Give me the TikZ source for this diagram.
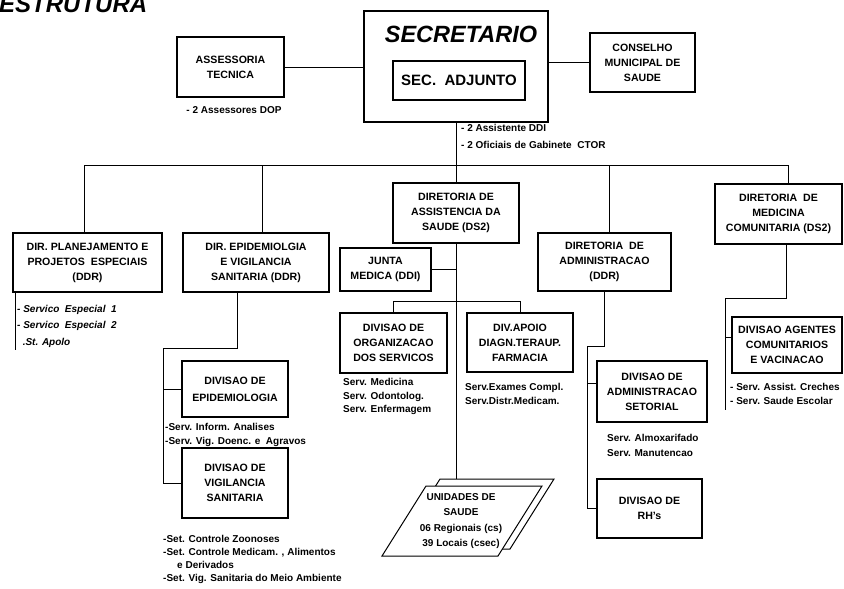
\documentclass[tikz,border=0pt]{standalone}
\usepackage{fontspec}
\setmainfont{Liberation Sans}
\newfontfamily\headfont{Liberation Sans}
\begin{document}
\begin{tikzpicture}[x=1pt,y=-1pt,
  unit/.style={draw, line width=1.1pt, align=center, inner sep=0pt,
    font=\fontsize{10.6}{15}\selectfont\bfseries},
  note/.style={align=left, inner sep=0pt, anchor=west,
    font=\fontsize{10}{14}\selectfont\bfseries},
  link/.style={line width=1pt}]
\useasboundingbox (0,0) rectangle (844,589);

% heading
\node[anchor=base west, inner sep=0pt, font=\headfont\fontsize{24}{24}\selectfont\bfseries\itshape] (title) at (-1,12.5) {ESTRUTURA};

% top level
\node[unit, minimum width=184pt, minimum height=111pt] (sec) at (456,66.5) {};
\node[inner sep=0pt, font=\headfont\fontsize{23.5}{24}\selectfont\bfseries\itshape] (sectitle) at (461,34) {SECRETARIO};
\node[unit, minimum width=132pt, minimum height=39pt, font=\headfont\fontsize{15}{16}\selectfont\bfseries] (adj) at (459,80.5) {SEC.\ \ ADJUNTO};
\node[unit, minimum width=107pt, minimum height=60pt] (asses) at (230.5,67) {ASSESSORIA\\TECNICA};
\node[unit, minimum width=105pt, minimum height=59pt] (cons) at (642.5,62.5) {CONSELHO\\MUNICIPAL DE\\SAUDE};
\node[note, anchor=center] (assesnote) at (234,110) {- 2 Assessores DOP};
\node[note, font=\fontsize{10}{16.5}\selectfont\bfseries] (secnote) at (461,136.5) {- 2 Assistente DDI\\- 2 Oficiais de Gabinete\ \ CTOR};

% directorates
\node[unit, minimum width=149pt, minimum height=59pt] (plan) at (87.5,262.5) {DIR. PLANEJAMENTO E\\PROJETOS\ \ ESPECIAIS\\(DDR)};
\node[unit, minimum width=146pt, minimum height=59pt] (epi) at (256,262.5) {DIR. EPIDEMIOLGIA\\E VIGILANCIA\\SANITARIA (DDR)};
\node[unit, minimum width=126pt, minimum height=60pt] (assist) at (456,213) {DIRETORIA DE\\ASSISTENCIA DA\\SAUDE (DS2)};
\node[unit, minimum width=133pt, minimum height=58pt] (admin) at (604.5,262) {DIRETORIA\ \ DE\\ADMINISTRACAO\\(DDR)};
\node[unit, minimum width=127pt, minimum height=60pt] (med) at (778.5,214) {DIRETORIA\ \ DE\\MEDICINA\\COMUNITARIA (DS2)};

% divisions
\node[unit, minimum width=91pt, minimum height=43pt] (junta) at (385.5,269.5) {JUNTA\\MEDICA (DDI)};
\node[unit, minimum width=107pt, minimum height=60pt] (org) at (393.5,343) {DIVISAO DE\\ORGANIZACAO\\DOS SERVICOS};
\node[unit, minimum width=106pt, minimum height=59pt] (apoio) at (520,342.5) {DIV.APOIO\\DIAGN.TERAUP.\\FARMACIA};
\node[unit, minimum width=106pt, minimum height=56pt, font=\fontsize{10.6}{17}\selectfont\bfseries] (divepi) at (235,389) {DIVISAO DE\\EPIDEMIOLOGIA};
\node[unit, minimum width=106pt, minimum height=70pt] (divvig) at (235,483) {DIVISAO DE\\VIGILANCIA\\SANITARIA};
\node[unit, minimum width=110pt, minimum height=61pt] (setorial) at (652,391.5) {DIVISAO DE\\ADMINISTRACAO\\SETORIAL};
\node[unit, minimum width=105pt, minimum height=59pt] (rh) at (649.5,508.5) {DIVISAO DE\\RH's};
\node[unit, minimum width=110pt, minimum height=56pt] (agentes) at (787,345) {DIVISAO AGENTES\\COMUNITARIOS\\E VACINACAO};

% health units (stacked parallelograms)
\draw[line width=1pt, fill=white] (396,549) -- (510,549) -- (554,479) -- (440,479) -- cycle;
\draw[line width=1pt, fill=white] (382,556) -- (498,556) -- (542,486) -- (426,486) -- cycle;
\node[align=center, inner sep=0pt, font=\fontsize{10}{15.3}\selectfont\bfseries] (unid) at (461,521) {UNIDADES DE\\SAUDE\\06 Regionais (cs)\\39 Locais (csec)};
\coordinate (utop) at (456,479);

% notes under the boxes
\node[note, font=\fontsize{10}{16.5}\selectfont\bfseries\itshape] (plannote) at (17,326) {- Servico\ \ Especial\ \ 1\\- Servico\ \ Especial\ \ 2\\\ \ .St. Apolo};
\node[note] (epinote) at (165,435) {-Serv. Inform. Analises\\-Serv. Vig. Doenc. e\ \ Agravos};
\node[note, font=\fontsize{10}{13}\selectfont\bfseries] (vignote) at (163,559.5) {-Set. Controle Zoonoses\\-Set. Controle Medicam. , Alimentos\\\hspace*{14pt}e Derivados\\-Set. Vig. Sanitaria do Meio Ambiente};
\node[note, font=\fontsize{10}{13.5}\selectfont\bfseries] (orgnote) at (343,396.5) {Serv. Medicina\\Serv. Odontolog.\\Serv. Enfermagem};
\node[note] (apoionote) at (465,394) {Serv.Exames Compl.\\Serv.Distr.Medicam.};
\node[note, font=\fontsize{10}{15}\selectfont\bfseries] (setnote) at (607,445.5) {Serv. Almoxarifado\\Serv. Manutencao};
\node[note] (agnote) at (730,394) {- Serv. Assist. Creches\\- Serv. Saude Escolar};

% connectors around the secretary
\draw[link] (asses.east) -- (asses.east -| sec.west);
\draw[link] (cons.west -| sec.east) -- (cons.west);
\draw[link] (sec.south) -- (assist.north);

% main distribution bar
\coordinate (b1) at (84,165);
\coordinate (b2) at (262,165);
\coordinate (b4) at (609,165);
\coordinate (b5) at (788,165);
\draw[link] (b1) -- (b5);
\draw[link] (b1) -- (b1 |- plan.north);
\draw[link] (b2) -- (b2 |- epi.north);
\draw[link] (b4) -- (b4 |- admin.north);
\draw[link] (b5) -- (b5 |- med.north);

% planning
\coordinate (p1) at (15,350);
\draw[link] (plan.south west -| p1) -- (p1);

% epidemiology branch
\coordinate (e1) at (237,348);
\coordinate (e2) at (163,348);
\draw[link] (epi.south -| e1) -- (e1) -- (e2) |- (divvig.west);
\draw[link] (e2 |- divepi.west) -- (divepi.west);

% health assistance branch
\draw[link] (assist.south) -- (utop);
\draw[link] (junta.east) -- (junta.east -| assist.south);
\draw[link] (org.north) -- ++(0,-11) -| (apoio.north);

% administration branch
\coordinate (a1) at (587,346);
\draw[link] (admin.south) |- (a1) |- (rh.west);
\draw[link] (a1 |- setorial.west) ++(0,-8.5) -- ([yshift=8.5pt]setorial.west);

% community medicine branch
\coordinate (m1) at (725,298);
\coordinate (m2) at (725,410);
\draw[link] ([xshift=7.5pt]med.south) |- (m1) -- (m2);
\draw[link] ([yshift=8pt]agentes.west -| m1) -- ([yshift=8pt]agentes.west);
\end{tikzpicture}
\end{document}
